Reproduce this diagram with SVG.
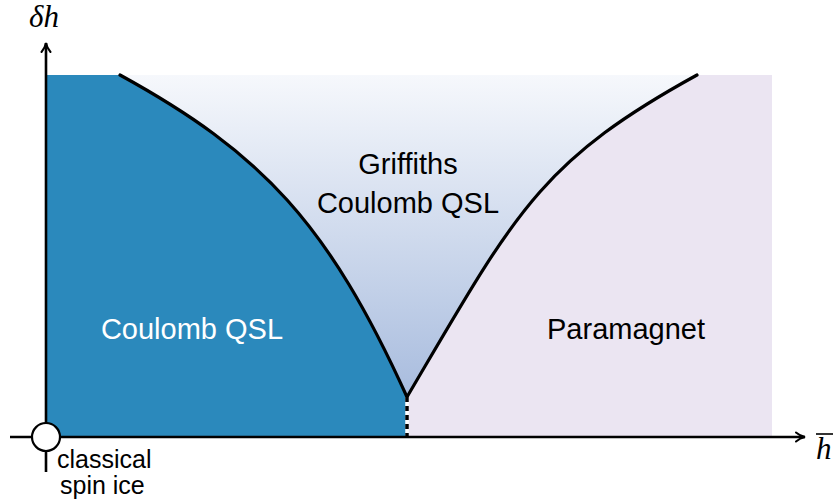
<svg xmlns="http://www.w3.org/2000/svg" width="839" height="501" viewBox="0 0 839 501">
<defs>
<linearGradient id="gq" x1="0" y1="75" x2="0" y2="397" gradientUnits="userSpaceOnUse">
<stop offset="0" stop-color="#f6f8fc"/>
<stop offset="1" stop-color="#a8bcde"/>
</linearGradient>
<marker id="arr" viewBox="0 0 12 12" refX="10" refY="6" markerWidth="12" markerHeight="12" markerUnits="userSpaceOnUse" orient="auto">
<path d="M1,1.5 Q5,5 10,6 Q5,7 1,10.5" fill="none" stroke="#000" stroke-width="2" stroke-linecap="round"/>
</marker>
<style>
.lbl{font-family:"Liberation Sans",Arial,sans-serif;font-size:29px;text-anchor:middle}
.sm{font-family:"Liberation Sans",Arial,sans-serif;font-size:25px}
.ax{font-family:"Liberation Serif","Times New Roman",serif;font-style:italic;font-size:31px}
.bd{fill:none;stroke:#000;stroke-width:3.2;stroke-linecap:round}
</style>
</defs>
<rect width="839" height="501" fill="#fff"/>
<g id="coulomb-qsl">
<path d="M46,75 L120,75 C262,153 328,223 407,397 L407,437 L46,437 Z" fill="#2b89bc"/>
<text class="lbl" x="192" y="339" fill="#fff">Coulomb QSL</text>
</g>
<g id="griffiths">
<path d="M120,75 C262,153 328,223 407,397 C514.7,214 538.6,162 697,75 Z" fill="url(#gq)"/>
<text class="lbl" x="408" y="174" fill="#000">Griffiths</text>
<text class="lbl" x="408" y="213" fill="#000">Coulomb QSL</text>
</g>
<g id="paramagnet">
<path d="M407,437 L407,397 C514.7,214 538.6,162 697,75 L772,75 L772,437 Z" fill="#ebe5f2"/>
<text class="lbl" x="626" y="339" fill="#000">Paramagnet</text>
</g>
<g id="connectors">
<path class="bd" d="M120,75 C262,153 328,223 407,397"/>
<path class="bd" d="M407,397 C514.7,214 538.6,162 697,75"/>
<line x1="407" y1="397" x2="407" y2="437" stroke="#fff" stroke-width="3.5"/>
<line x1="407" y1="397" x2="407" y2="437" stroke="#000" stroke-width="3.5" stroke-dasharray="5,4"/>
<line x1="10" y1="437" x2="805" y2="437" stroke="#000" stroke-width="2.6" marker-end="url(#arr)"/>
<line x1="46" y1="472" x2="46" y2="43" stroke="#000" stroke-width="2.6" marker-end="url(#arr)"/>
</g>
<g id="classical-spin-ice">
<circle cx="46" cy="437" r="14" fill="#fff" stroke="#000" stroke-width="2.2"/>
<text class="sm" x="57" y="468">classical</text>
<text class="sm" x="60" y="494">spin ice</text>
</g>
<g id="axis-labels">
<text class="ax" x="29" y="27">δh</text>
<text class="ax" x="816" y="459">h</text>
<line x1="816" y1="434" x2="833" y2="434" stroke="#000" stroke-width="1.6"/>
</g>
</svg>
